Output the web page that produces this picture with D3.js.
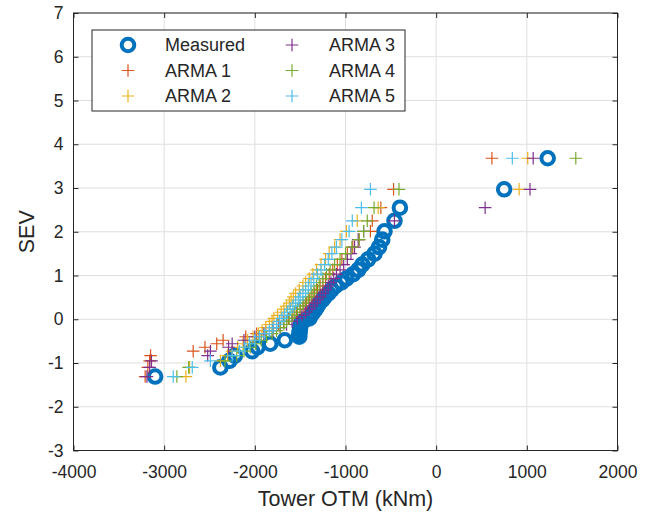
<!DOCTYPE html>
<html>
<head>
<meta charset="utf-8">
<script src="https://cdn.jsdelivr.net/npm/d3@7"></script>
<style>
body { margin: 0; background: #fff; }
text { font-family: 'Liberation Sans', Arial, sans-serif; fill: #262626; }
</style>
</head>
<body>
<svg id="main_svg"></svg>
<script>
const WIDTH = 654;
const HEIGHT = 519;
const PLOT = {left: 73.5, right: 617.5, top: 13, bottom: 450.5};

const x_ticks = [-4000, -3000, -2000, -1000, 0, 1000, 2000];
const y_ticks = [-3, -2, -1, 0, 1, 2, 3, 4, 5, 6, 7];

// SEV level shared by every series (one per ranked maximum)
const sev = [-1.31, -1.10, -0.95, -0.83, -0.73, -0.64, -0.56, -0.48, -0.40, -0.33,
	-0.26, -0.19, -0.12, -0.05, 0.02, 0.09, 0.16, 0.23, 0.30, 0.37,
	0.44, 0.51, 0.59, 0.67, 0.76, 0.84, 0.93, 1.03, 1.13, 1.25,
	1.37, 1.50, 1.65, 1.82, 2.01, 2.25, 2.55, 2.97, 3.68];

const measured = [-3100, -2380, -2280, -2220, -2030, -1970, -1830, -1670, -1510, -1510,
	-1505, -1500, -1495, -1480, -1400, -1380, -1355, -1330, -1310, -1290,
	-1255, -1230, -1190, -1155, -1110, -1045, -990, -915, -860, -815,
	-750, -680, -630, -595, -570, -460, -400, 750, 1230];

const arma_1 = [-3210, -3180, -3160, -3150, -2680, -2550, -2420, -2350, -2100, -1980,
	-1880, -1800, -1740, -1680, -1630, -1580, -1540, -1500, -1460, -1430,
	-1400, -1370, -1340, -1310, -1280, -1250, -1220, -1180, -1140, -1090,
	-1040, -980, -920, -850, -725, -705, -610, -470, 615];

const arma_2 = [-2760, -2720, -2380, -2300, -2250, -2190, -2130, -2080, -2020, -1960,
	-1920, -1880, -1840, -1810, -1790, -1750, -1710, -1680, -1650, -1620,
	-1600, -1575, -1550, -1510, -1470, -1440, -1400, -1360, -1320, -1270,
	-1220, -1180, -1120, -1060, -990, -870, -640, 915, 1010];

const arma_3 = [-3190, -3160, -3140, -2520, -2490, -2290, -2250, -2120, -2000, -1900,
	-1800, -1720, -1650, -1590, -1530, -1480, -1440, -1400, -1370, -1340,
	-1310, -1280, -1250, -1220, -1190, -1160, -1130, -1100, -1060, -1020,
	-980, -940, -900, -860, -800, -460, 540, 1035, 1070];

const arma_4 = [-2860, -2730, -2330, -2200, -2120, -2050, -1990, -1930, -1870, -1810,
	-1760, -1720, -1680, -1650, -1620, -1590, -1560, -1530, -1500, -1470,
	-1440, -1410, -1380, -1350, -1320, -1290, -1250, -1210, -1170, -1120,
	-1060, -1000, -930, -850, -800, -760, -685, -410, 1540];

const arma_5 = [-2900, -2690, -2490, -2250, -2170, -2110, -2060, -2000, -1950, -1890,
	-1840, -1800, -1760, -1730, -1700, -1670, -1640, -1610, -1580, -1550,
	-1520, -1500, -1470, -1440, -1410, -1380, -1350, -1310, -1270, -1230,
	-1190, -1150, -1100, -1040, -960, -925, -825, -725, 840];

const series_names = ['Measured', 'ARMA 1', 'ARMA 2', 'ARMA 3', 'ARMA 4', 'ARMA 5'];
const series_values = [measured, arma_1, arma_2, arma_3, arma_4, arma_5];
const series_colors = ['#0072BD', '#D95319', '#EDB120', '#7E2F8E', '#77AC30', '#4DBEEE'];

const CROSS = 'M-6.3,0H6.3M0,-6.3V6.3';

const draw_marker = (g, idx) => {
	if(idx === 0) {
		g.append('circle')
			.attr('r', 6.3)
			.attr('fill', 'none')
			.attr('stroke', series_colors[0])
			.attr('stroke-width', 4);
	} else {
		g.append('path')
			.attr('d', CROSS)
			.attr('fill', 'none')
			.attr('stroke', series_colors[idx])
			.attr('stroke-width', 1.2);
	}
};

const svg = d3.select('#main_svg').attr('width', WIDTH).attr('height', HEIGHT);

const x_scale = d3.scaleLinear().domain([-4000, 2000]).range([PLOT.left, PLOT.right]);
const y_scale = d3.scaleLinear().domain([-3, 7]).range([PLOT.bottom, PLOT.top]);

// grid
svg.append('g').selectAll('line').data(x_ticks).enter().append('line')
	.attr('x1', d => x_scale(d)).attr('x2', d => x_scale(d))
	.attr('y1', PLOT.top).attr('y2', PLOT.bottom)
	.attr('stroke', '#dfdfdf').attr('stroke-width', 1);
svg.append('g').selectAll('line').data(y_ticks).enter().append('line')
	.attr('y1', d => y_scale(d)).attr('y2', d => y_scale(d))
	.attr('x1', PLOT.left).attr('x2', PLOT.right)
	.attr('stroke', '#dfdfdf').attr('stroke-width', 1);

// axes with inward ticks on all four sides
const style_axis = g => {
	g.select('.domain').remove();
	g.selectAll('.tick line').attr('stroke', '#262626');
	g.selectAll('.tick text').attr('fill', '#262626').style('font-size', '17.5px')
		.style('font-family', "'Liberation Sans', Arial, sans-serif");
};

svg.append('g')
	.attr('transform', `translate(0,${PLOT.bottom})`)
	.call(d3.axisBottom(x_scale).tickValues(x_ticks).tickSize(-5).tickPadding(15).tickFormat(d => d))
	.call(style_axis);
svg.append('g')
	.attr('transform', `translate(0,${PLOT.top})`)
	.call(d3.axisTop(x_scale).tickValues(x_ticks).tickSize(-5).tickFormat(''))
	.call(style_axis);
svg.append('g')
	.attr('transform', `translate(${PLOT.left},0)`)
	.call(d3.axisLeft(y_scale).tickValues(y_ticks).tickSize(-5).tickPadding(10).tickFormat(d => d))
	.call(style_axis);
svg.append('g')
	.attr('transform', `translate(${PLOT.right},0)`)
	.call(d3.axisRight(y_scale).tickValues(y_ticks).tickSize(-5).tickFormat(''))
	.call(style_axis);

svg.append('rect')
	.attr('x', PLOT.left).attr('y', PLOT.top)
	.attr('width', PLOT.right - PLOT.left).attr('height', PLOT.bottom - PLOT.top)
	.attr('fill', 'none').attr('stroke', '#262626').attr('stroke-width', 1);

// data
series_values.forEach((values, idx) => {
	const pts = values.map((v, i) => [v, sev[i]]);
	const g = svg.append('g');
	g.selectAll('g').data(pts).enter().append('g')
		.attr('transform', d => `translate(${x_scale(d[0])},${y_scale(d[1])})`)
		.each(function() { draw_marker(d3.select(this), idx); });
});

// axis labels
svg.append('text')
	.attr('x', (PLOT.left + PLOT.right) / 2)
	.attr('y', 506)
	.attr('text-anchor', 'middle')
	.style('font-size', '21.5px')
	.text('Tower OTM (kNm)');

svg.append('text')
	.attr('transform', `translate(34,${(PLOT.top + PLOT.bottom) / 2}) rotate(-90)`)
	.attr('text-anchor', 'middle')
	.style('font-size', '21.5px')
	.text('SEV');

// legend
const legend = svg.append('g');
legend.append('rect')
	.attr('x', 92).attr('y', 30).attr('width', 313).attr('height', 81)
	.attr('fill', '#fff').attr('stroke', '#262626').attr('stroke-width', 1);

const legend_cols = [[128, 165], [292, 329]];
const legend_rows = [45, 70.5, 96];
series_names.forEach((name, idx) => {
	const col = legend_cols[Math.floor(idx / 3)];
	const row = legend_rows[idx % 3];
	const g = legend.append('g').attr('transform', `translate(${col[0]},${row})`);
	draw_marker(g, idx);
	legend.append('text')
		.attr('x', col[1]).attr('y', row)
		.attr('dy', '0.35em')
		.style('font-size', '18px')
		.text(name);
});
</script>
</body>
</html>
